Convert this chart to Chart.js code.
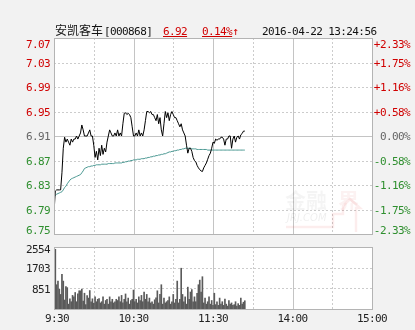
<!DOCTYPE html>
<html>
<head>
<meta charset="utf-8">
<script src="https://cdn.jsdelivr.net/npm/chart.js@4.4.0/dist/chart.umd.min.js"></script>
<style>
html, body { margin: 0; padding: 0; background: #f2f2f2; }
#wrap { position: relative; width: 415px; height: 330px; overflow: hidden; }
#wrap canvas { position: absolute; left: 0; top: 0; }
.hd { position: absolute; top: 25px; white-space: nowrap; line-height: 14px;
      font: 11px 'DejaVu Sans Mono', monospace; letter-spacing: -0.6px; color: #111; }
.cn { top: 22px; font: 12px 'Noto Sans CJK SC', sans-serif; letter-spacing: 0; line-height: 16px; }
.red { color: #d00000; }
.ul { text-decoration: underline; }
</style>
</head>
<body>
<div id="wrap">
  <canvas id="price" width="415" height="330"></canvas>
  <canvas id="volume" width="415" height="330"></canvas>
  <span class="hd cn" style="left:55px">安凯客车</span>
  <span class="hd" style="left:104px">[000868]</span>
  <span class="hd red ul" style="left:163px">6.92</span>
  <span class="hd red" style="left:202px"><span class="ul">0.14%</span>↑</span>
  <span class="hd" style="left:262px">2016-04-22 13:24:56</span>
</div>
<script>
// minute-by-minute data from 9:30
const priceValues = [
  6.785, 6.82, 6.822, 6.822, 6.822, 6.822, 6.85, 6.89, 6.908, 6.90,
  6.905, 6.90, 6.895, 6.905, 6.90, 6.905, 6.905, 6.91, 6.905, 6.91,
  6.915, 6.928, 6.92, 6.91, 6.91, 6.91, 6.915, 6.92, 6.91, 6.91,
  6.895, 6.875, 6.885, 6.871, 6.89, 6.878, 6.895, 6.88, 6.89, 6.884,
  6.90, 6.91, 6.92, 6.915, 6.91, 6.91, 6.915, 6.91, 6.92, 6.91,
  6.915, 6.91, 6.93, 6.947, 6.948, 6.945, 6.947, 6.945, 6.94, 6.925,
  6.91, 6.91, 6.915, 6.91, 6.92, 6.91, 6.915, 6.91, 6.92, 6.935,
  6.95, 6.95, 6.948, 6.95, 6.945, 6.945, 6.94, 6.935, 6.945, 6.93,
  6.94, 6.92, 6.91, 6.93, 6.95, 6.94, 6.948, 6.935, 6.945, 6.95,
  6.945, 6.94, 6.94, 6.935, 6.93, 6.925, 6.93, 6.92, 6.915, 6.91,
  6.895, 6.882, 6.89, 6.89, 6.885, 6.875, 6.87, 6.868, 6.862, 6.858,
  6.855, 6.853, 6.852, 6.858, 6.862, 6.866, 6.872, 6.878, 6.882, 6.89,
  6.90, 6.898, 6.905, 6.903, 6.905, 6.905, 6.908, 6.908, 6.905, 6.895,
  6.905, 6.905, 6.91, 6.91, 6.89, 6.905, 6.91, 6.90, 6.908, 6.91,
  6.905, 6.912, 6.914, 6.918, 6.918
];
const avgValues = [
  6.811, 6.813, 6.815, 6.816, 6.817, 6.818, 6.819, 6.822, 6.826, 6.828,
  6.832, 6.835, 6.838, 6.840, 6.841, 6.842, 6.843, 6.844, 6.845, 6.846,
  6.847, 6.850, 6.853, 6.857, 6.858, 6.859, 6.860, 6.860, 6.861, 6.861,
  6.862, 6.862, 6.863, 6.863, 6.863, 6.863, 6.864, 6.864, 6.864, 6.864,
  6.864, 6.865, 6.865, 6.865, 6.865, 6.865, 6.866, 6.866, 6.866, 6.866,
  6.866, 6.866, 6.867, 6.867, 6.868, 6.868, 6.869, 6.869, 6.870, 6.870,
  6.871, 6.871, 6.871, 6.872, 6.872, 6.872, 6.873, 6.873, 6.873, 6.874,
  6.874, 6.875, 6.875, 6.876, 6.876, 6.877, 6.877, 6.878, 6.878, 6.879,
  6.879, 6.880, 6.880, 6.881, 6.881, 6.882, 6.883, 6.884, 6.884, 6.885,
  6.885, 6.886, 6.886, 6.887, 6.887, 6.888, 6.888, 6.889, 6.889, 6.890,
  6.890, 6.890, 6.890, 6.890, 6.889, 6.889, 6.889, 6.889, 6.888, 6.888,
  6.888, 6.888, 6.888, 6.888, 6.888, 6.888, 6.887, 6.887, 6.887, 6.887,
  6.887, 6.887, 6.887, 6.887, 6.887, 6.887, 6.887, 6.887, 6.887, 6.887,
  6.887, 6.887, 6.887, 6.887, 6.887, 6.887, 6.887, 6.887, 6.887, 6.887,
  6.887, 6.887, 6.887, 6.887, 6.887
];
const volumeValues = [
  1770, 2460, 1000, 1150, 810, 600, 1430, 1150, 370, 920,
  880, 200, 420, 300, 560, 500, 680, 300, 620, 750,
  750, 820, 330, 650, 180, 550, 450, 760, 300, 420,
  240, 500, 300, 400, 430, 250, 300, 500, 200, 350,
  400, 200, 500, 300, 400, 250, 300, 400, 350, 500,
  300, 560, 250, 400, 620, 300, 450, 200, 350, 400,
  780, 300, 400, 250, 500, 350, 560, 300, 700, 400,
  600, 300, 450, 250, 300, 200, 380, 460, 750, 250,
  600, 1000, 200, 450, 250, 300, 350, 500, 200, 300,
  600, 250, 400, 1150, 250, 400, 1680, 600, 300, 500,
  200, 900, 400, 700, 800, 300, 500, 300, 650, 1000,
  1190, 700, 1330, 250, 450, 200, 300, 500, 200, 350,
  150, 650, 180, 300, 150, 450, 200, 300, 150, 410,
  200, 120, 350, 200, 250, 150, 180, 300, 120, 220,
  150, 450, 200, 280, 340
];
const priceTicks = [7.07, 7.03, 6.99, 6.95, 6.91, 6.87, 6.83, 6.79, 6.75];
const pctTicks = ['+2.33%', '+1.75%', '+1.16%', '+0.58%', '0.00%', '-0.58%', '-1.16%', '-1.75%', '-2.33%'];
const volumeTicks = [2554, 1703, 851];
const timeTicks = [0, 30, 60, 90, 120, 150, 180, 210, 240];
const timeLabels = ['9:30', '', '10:30', '', '11:30', '', '14:00', '', '15:00'];
const prevClose = 6.91;

const RED = '#d00000', GREEN = '#2f8f2f', GRAY = '#666666';
const LABEL_FONT = "11px 'DejaVu Sans Mono', monospace";

function tickColor(i) {
    if (i < 4) return RED;
    if (i === 4) return GRAY;
    return GREEN;
}

// white plot area + grid, drawn before the data
function drawFrame(chart, hLines, solidH) {
    const ctx = chart.ctx;
    const a = chart.chartArea;
    const xs = chart.scales.x, ys = chart.scales.y;
    ctx.save();
    ctx.fillStyle = '#ffffff';
    ctx.fillRect(a.left, a.top, a.right - a.left, a.bottom - a.top);
    ctx.lineWidth = 1;
    timeTicks.forEach((t, i) => {
        if (i === 0 || i === timeTicks.length - 1) return;
        const x = Math.round(xs.getPixelForValue(t)) + 0.5;
        ctx.strokeStyle = t % 60 === 0 ? '#c4c4c4' : '#cccccc';
        ctx.setLineDash(t % 60 === 0 ? [] : [2, 2]);
        ctx.beginPath(); ctx.moveTo(x, a.top); ctx.lineTo(x, a.bottom); ctx.stroke();
    });
    hLines.forEach(v => {
        const y = Math.round(ys.getPixelForValue(v)) + 0.5;
        const solid = v === solidH;
        ctx.strokeStyle = solid ? '#c4c4c4' : '#cccccc';
        ctx.setLineDash(solid ? [] : [2, 2]);
        ctx.beginPath(); ctx.moveTo(a.left, y); ctx.lineTo(a.right, y); ctx.stroke();
    });
    ctx.restore();
}

function drawBorder(chart) {
    const ctx = chart.ctx;
    const a = chart.chartArea;
    ctx.save();
    ctx.strokeStyle = '#b4b4b4';
    ctx.lineWidth = 1;
    ctx.strokeRect(Math.round(a.left) + 0.5, Math.round(a.top) + 0.5,
        Math.round(a.right - a.left), Math.round(a.bottom - a.top));
    ctx.restore();
}

function drawWatermark(ctx) {
    ctx.save();
    ctx.font = "bold 21px 'Noto Sans CJK SC', sans-serif";
    ctx.fillStyle = 'rgba(0,0,0,0.045)';
    ctx.textBaseline = 'alphabetic';
    ctx.fillText('金融', 285, 208);
    ctx.fillStyle = 'rgba(200,40,40,0.06)';
    ctx.fillText('界', 338, 208);
    ctx.font = "italic 10px 'DejaVu Sans', sans-serif";
    ctx.fillStyle = 'rgba(0,0,0,0.07)';
    ctx.fillText('JRJ.COM', 287, 221);
    ctx.strokeStyle = 'rgba(220,60,60,0.09)';
    ctx.lineWidth = 2.5;
    ctx.beginPath();
    ctx.moveTo(286, 227); ctx.lineTo(333, 227); ctx.lineTo(333, 214);
    ctx.lineTo(343, 214); ctx.lineTo(343, 206); ctx.lineTo(350, 199);
    ctx.lineTo(360, 208); ctx.lineTo(356, 208); ctx.lineTo(356, 232);
    ctx.stroke();
    ctx.restore();
}

const pricePlugin = {
    id: 'priceFrame',
    beforeDraw(chart) {
        drawFrame(chart, priceTicks.slice(1, -1), prevClose);
        drawWatermark(chart.ctx);
    },
    afterDatasetsDraw(chart) { drawBorder(chart); },
    afterDraw(chart) {
        const ctx = chart.ctx;
        const a = chart.chartArea;
        const ys = chart.scales.y;
        ctx.save();
        ctx.font = LABEL_FONT;
        ctx.letterSpacing = '-0.6px';
        ctx.textBaseline = 'middle';
        priceTicks.forEach((v, i) => {
            let y = ys.getPixelForValue(v) + 1.5;
            y = Math.min(Math.max(y, a.top + 7), a.bottom - 3);
            ctx.fillStyle = tickColor(i);
            ctx.textAlign = 'right';
            ctx.fillText(v.toFixed(2), 50, y);
            ctx.fillText(pctTicks[i], 410, y);
        });
        ctx.restore();
    }
};

const volumePlugin = {
    id: 'volumeFrame',
    beforeDraw(chart) { drawFrame(chart, volumeTicks.slice(1), null); },
    afterDatasetsDraw(chart) { drawBorder(chart); },
    afterDraw(chart) {
        const ctx = chart.ctx;
        const a = chart.chartArea;
        const xs = chart.scales.x, ys = chart.scales.y;
        ctx.save();
        ctx.font = LABEL_FONT;
        ctx.letterSpacing = '-0.6px';
        ctx.textBaseline = 'middle';
        ctx.fillStyle = '#222222';
        ctx.textAlign = 'right';
        volumeTicks.forEach(v => {
            let y = ys.getPixelForValue(v) + 1.5;
            y = Math.max(y, a.top + 3);
            ctx.fillText(String(v), 50, y);
        });
        ctx.textAlign = 'center';
        timeTicks.forEach((t, i) => {
            if (!timeLabels[i]) return;
            const x = xs.getPixelForValue(t) + (i === 0 ? 3 : 0);
            ctx.fillText(timeLabels[i], x, 319);
        });
        ctx.restore();
    }
};

const commonOptions = {
    responsive: false,
    animation: false,
    devicePixelRatio: 1,
    plugins: { legend: { display: false }, tooltip: { enabled: false } }
};

new Chart(document.getElementById('price'), {
    type: 'line',
    data: {
        datasets: [
            {
                data: priceValues.map((v, i) => ({ x: i, y: v })),
                borderColor: '#000000',
                borderWidth: 1,
                pointRadius: 0,
                tension: 0
            },
            {
                data: avgValues.map((v, i) => ({ x: i, y: v })),
                borderColor: '#4a9892',
                borderWidth: 1,
                pointRadius: 0,
                tension: 0
            }
        ]
    },
    options: {
        ...commonOptions,
        layout: { padding: { left: 54, right: 43, top: 38, bottom: 96 } },
        scales: {
            x: { type: 'linear', min: 0, max: 240, display: false },
            y: { min: 6.75, max: 7.07, display: false }
        }
    },
    plugins: [pricePlugin]
});

new Chart(document.getElementById('volume'), {
    type: 'bar',
    data: {
        datasets: [{
            data: volumeValues.map((v, i) => ({ x: i, y: v })),
            backgroundColor: '#5a5a5a',
            barThickness: 1,
            borderWidth: 0
        }]
    },
    options: {
        ...commonOptions,
        layout: { padding: { left: 54, right: 43, top: 247, bottom: 21 } },
        scales: {
            x: { type: 'linear', min: 0, max: 240, display: false, offset: false },
            y: { min: 0, max: 2554, display: false }
        }
    },
    plugins: [volumePlugin]
});
</script>
</body>
</html>
